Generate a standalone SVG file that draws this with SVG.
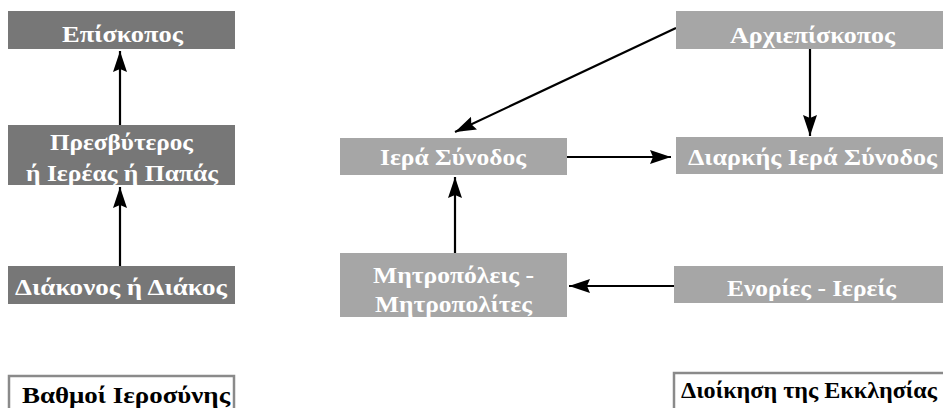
<svg xmlns="http://www.w3.org/2000/svg" width="943" height="408" viewBox="0 0 943 408">
<style>
.dk{fill:#777777}
.lt{fill:#a6a6a6}
.t{font-family:"Liberation Serif","Times New Roman",serif;font-weight:bold;font-size:23px;fill:#ffffff}
.lg{font-family:"Liberation Serif","Times New Roman",serif;font-weight:bold;font-size:23px;fill:#000000}
.lgb{fill:#ffffff;stroke:#8a8a8a;stroke-width:2.5}
.c{stroke:#000;stroke-width:2.2;fill:none;marker-end:url(#ah)}
</style>
<defs>
<marker id="ah" markerUnits="userSpaceOnUse" markerWidth="24" markerHeight="16" refX="21" refY="7" orient="auto">
<path d="M0,0 L21,7 L0,14 L3,7 z" fill="#000"/>
</marker>
</defs>
<rect width="943" height="408" fill="#ffffff"/>
<g id="connectors">
<line class="c" x1="120" y1="125" x2="120" y2="51"/>
<line class="c" x1="120" y1="266" x2="120" y2="187"/>
<line class="c" x1="676" y1="28" x2="455" y2="132"/>
<line class="c" x1="810" y1="49" x2="810" y2="136"/>
<line class="c" x1="567" y1="157" x2="671" y2="157"/>
<line class="c" x1="455" y1="253" x2="455" y2="177"/>
<line class="c" x1="674" y1="286" x2="569" y2="286"/>
</g>
<g id="n-episkopos">
<rect class="dk" x="8" y="11" width="227" height="38"/>
<text class="t" x="62" y="42" textLength="121" lengthAdjust="spacingAndGlyphs">Επίσκοπος</text>
</g>
<g id="n-presvyteros">
<rect class="dk" x="8" y="125" width="227" height="60"/>
<text class="t" x="50" y="150" textLength="143" lengthAdjust="spacingAndGlyphs">Πρεσβύτερος</text>
<text class="t" x="26" y="181" textLength="192" lengthAdjust="spacingAndGlyphs">ή Ιερέας ή Παπάς</text>
</g>
<g id="n-diakonos">
<rect class="dk" x="8" y="266" width="227" height="38"/>
<text class="t" x="15" y="295" textLength="212" lengthAdjust="spacingAndGlyphs">Διάκονος ή Διάκος</text>
</g>
<g id="n-archiepiskopos">
<rect class="lt" x="676" y="11" width="267" height="38"/>
<text class="t" x="730" y="43" textLength="165" lengthAdjust="spacingAndGlyphs">Αρχιεπίσκοπος</text>
</g>
<g id="n-iera-synodos">
<rect class="lt" x="340" y="138" width="227" height="37"/>
<text class="t" x="380" y="165" textLength="146" lengthAdjust="spacingAndGlyphs">Ιερά Σύνοδος</text>
</g>
<g id="n-diarkis">
<rect class="lt" x="676" y="137" width="267" height="37"/>
<text class="t" x="688" y="165" textLength="249" lengthAdjust="spacingAndGlyphs">Διαρκής Ιερά Σύνοδος</text>
</g>
<g id="n-mitropoleis">
<rect class="lt" x="340" y="253" width="227" height="64"/>
<text class="t" x="373" y="283" textLength="161" lengthAdjust="spacingAndGlyphs">Μητροπόλεις -</text>
<text class="t" x="375" y="312" textLength="157" lengthAdjust="spacingAndGlyphs">Μητροπολίτες</text>
</g>
<g id="n-enories">
<rect class="lt" x="674" y="266" width="269" height="37"/>
<text class="t" x="727" y="296" textLength="169" lengthAdjust="spacingAndGlyphs">Ενορίες - Ιερείς</text>
</g>
<g id="legend-left">
<rect class="lgb" x="9" y="376" width="225" height="40"/>
<text class="lg" x="22" y="403" textLength="208" lengthAdjust="spacingAndGlyphs">Βαθμοί Ιεροσύνης</text>
</g>
<g id="legend-right">
<rect class="lgb" x="674" y="373" width="280" height="40"/>
<text class="lg" x="681" y="398" textLength="256" lengthAdjust="spacingAndGlyphs">Διοίκηση της Εκκλησίας</text>
</g>
</svg>
